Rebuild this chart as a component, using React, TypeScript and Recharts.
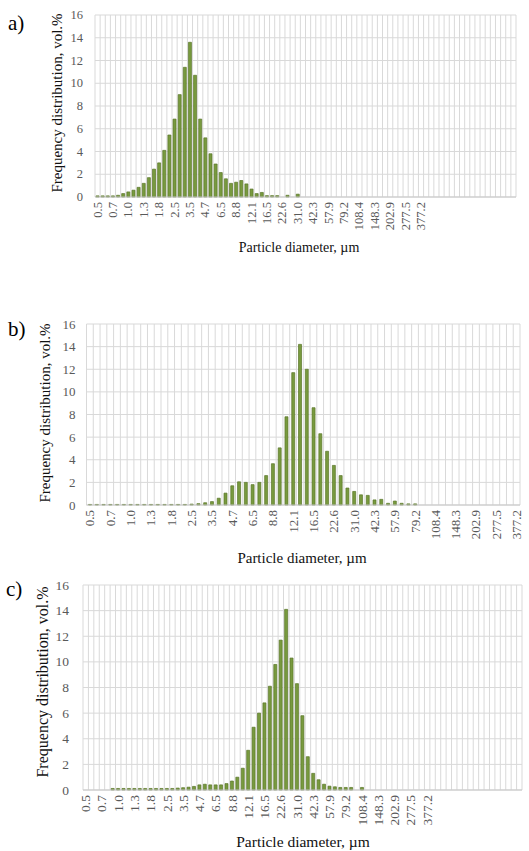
import React from "react";
import { BarChart, Bar, XAxis, YAxis, CartesianGrid } from "recharts";

// Particle size classes (µm); every third one is labelled on the axis
const sizeLabels = [
  "0.5","0.56","0.62","0.7","0.78","0.87","1.0","1.1","1.2","1.3","1.5","1.6",
  "1.8","2.0","2.3","2.5","2.8","3.1","3.5","3.8","4.2","4.7","5.2","5.8",
  "6.5","7.1","7.9","8.8","9.8","10.9","12.1","13.4","14.9","16.5","18.3","20.4",
  "22.6","25.1","27.9","31.0","34.3","38.1","42.3","47.0","52.1","57.9","64.2","71.3",
  "79.2","87.9","97.6","108.4","120.3","133.6","148.3","164.6","182.7","202.9","225.2","250.0",
  "277.5","308.1","342.0","377.2",
];
const labelledSizes = [
  "0.5","0.7","1.0","1.3","1.8","2.5","3.5","4.7","6.5","8.8","12.1","16.5",
  "22.6","31.0","42.3","57.9","79.2","108.4","148.3","202.9","277.5","377.2",
];

const yTicks = [0, 2, 4, 6, 8, 10, 12, 14, 16];

// a) frequency distribution, vol.%
const valuesA = [
  0.1, 0.1, 0.1, 0.1, 0.15, 0.3, 0.45, 0.6, 0.85, 1.2,
  1.7, 2.45, 3.0, 4.1, 5.45, 6.85, 9.0, 11.4, 13.6, 10.7,
  6.85, 5.2, 3.8, 2.9, 2.15, 1.6, 1.2, 1.3, 1.45, 1.15,
  0.7, 0.3, 0.4, 0.12, 0.12, 0.12, 0, 0.15, 0, 0.25,
  0, 0, 0, 0, 0, 0, 0, 0, 0, 0,
  0, 0, 0, 0, 0, 0, 0, 0, 0, 0,
  0, 0, 0, 0, 0, 0, 0, 0, 0, 0,
  0, 0, 0, 0, 0, 0, 0, 0, 0, 0,
  0, 0,
];

// b)
const valuesB = [
  0.05, 0.05, 0.05, 0.05, 0.05, 0.05, 0.05, 0.05, 0.05, 0.05,
  0.05, 0.05, 0.05, 0.05, 0.05, 0.08, 0.12, 0.2, 0.3, 0.6,
  1.05, 1.7, 2.05, 2.0, 1.8, 2.0, 2.6, 3.65, 5.05, 7.8,
  11.7, 14.2, 12.0, 8.6, 6.3, 4.75, 3.5, 2.6, 1.5, 1.2,
  0.9, 0.85, 0.45, 0.5, 0.15, 0.35, 0.15, 0.1, 0.1, 0,
  0, 0, 0, 0, 0, 0, 0, 0, 0, 0,
  0, 0, 0, 0,
];

// c)
const valuesC = [
  0, 0, 0, 0, 0, 0.12, 0.12, 0.12, 0.12, 0.12,
  0.12, 0.12, 0.12, 0.12, 0.12, 0.12, 0.12, 0.15, 0.18, 0.22,
  0.28, 0.4, 0.45, 0.4, 0.4, 0.4, 0.5, 0.7, 1.0, 1.7,
  3.1, 4.9, 6.0, 6.8, 8.1, 9.8, 11.7, 14.1, 10.3, 8.3,
  5.8, 2.6, 1.3, 0.8, 0.45, 0.3, 0.25, 0.2, 0.2, 0.2,
  0, 0.2, 0, 0, 0, 0, 0, 0, 0, 0,
  0, 0, 0, 0, 0, 0, 0, 0, 0, 0,
  0, 0, 0, 0, 0, 0, 0, 0, 0, 0,
  0,
];

const FONT = "Liberation Serif, Tinos, DejaVu Serif, serif";
const W = 529;

type PanelProps = {
  letter: string;
  values: number[];
  plotTop: number;
  plotBottom: number;
  plotLeft: number;
  plotRight: number;
  yTickRight: number;
  yTitle: [number, number];
  xTitle: [number, number];
  letterPos: [number, number];
  tickSize: number;
  xTitleSize: number;
  yTitleSize: number;
  gap: string;
};

function Panel(p: PanelProps) {
  const data = p.values.map((v, i) => ({
    key: i < sizeLabels.length ? sizeLabels[i] : `extra${i}`,
    v,
  }));
  const n = data.length;
  const chartTop = p.plotTop - 10;
  const plotH = p.plotBottom - p.plotTop;
  const chartH = plotH + 10 + 60;
  const relBottom = 10 + plotH;

  const XTick = (props: any) => {
    const { x, payload } = props;
    const val = String(payload.value);
    const txt = labelledSizes.includes(val) ? val : "";
    const y = relBottom + 5;
    return (
      <text
        x={x}
        y={y}
        transform={`rotate(-90, ${x}, ${y})`}
        textAnchor="end"
        dominantBaseline="central"
        fill="#595959"
        style={{ fontFamily: FONT }}
        fontSize={p.tickSize}
      >
        {txt}
      </text>
    );
  };

  const YTick = (props: any) => {
    const { y, payload } = props;
    return (
      <text
        x={p.yTickRight}
        y={y}
        textAnchor="end"
        dominantBaseline="central"
        fill="#595959"
        style={{ fontFamily: FONT }}
        fontSize={p.tickSize}
      >
        {payload.value}
      </text>
    );
  };

  const vGen = (props: any) => {
    const off = props.offset;
    const out: number[] = [];
    for (let i = 0; i <= n; i++) out.push(off.left + (off.width * i) / n);
    return out;
  };

  return (
    <>
      <div style={{ position: "absolute", left: 0, top: chartTop, width: W, height: chartH }}>
        <BarChart
          width={W}
          height={chartH}
          data={data}
          margin={{ top: 10, right: W - p.plotRight, bottom: 0, left: 0 }}
          barCategoryGap={p.gap}
        >
          <CartesianGrid
            stroke="#d9d9d9"
            strokeWidth={1}
            verticalCoordinatesGenerator={vGen}
          />
          <XAxis
            dataKey="key"
            type="category"
            interval={2}
            height={60}
            tickLine={false}
            axisLine={{ stroke: "#c8c8c8" }}
            tick={<XTick />}
          />
          <YAxis
            width={p.plotLeft}
            domain={[0, 16]}
            ticks={yTicks}
            interval={0}
            axisLine={false}
            tickLine={false}
            tick={<YTick />}
          />
          <Bar
            dataKey="v"
            fill="#789a3e"
            stroke="#5a7629"
            strokeWidth={0.7}
            isAnimationActive={false}
          />
        </BarChart>
      </div>
      <div
        style={{
          position: "absolute",
          left: p.letterPos[0],
          top: p.letterPos[1],
          transform: "translateY(-50%)",
          fontFamily: FONT,
          fontSize: 21,
          color: "#000",
          lineHeight: 1,
        }}
      >
        {p.letter}
      </div>
      <div
        style={{
          position: "absolute",
          left: p.yTitle[0],
          top: p.yTitle[1],
          transform: "translate(-50%, -50%) rotate(-90deg)",
          fontFamily: FONT,
          fontSize: p.yTitleSize,
          whiteSpace: "nowrap",
          color: "#111",
          lineHeight: 1,
        }}
      >
        Frequency distribution, vol.%
      </div>
      <div
        style={{
          position: "absolute",
          left: p.xTitle[0],
          top: p.xTitle[1],
          transform: "translate(-50%, -50%)",
          fontFamily: FONT,
          fontSize: p.xTitleSize,
          whiteSpace: "nowrap",
          color: "#111",
          lineHeight: 1,
        }}
      >
        Particle diameter, µm
      </div>
    </>
  );
}

export default function App() {
  return (
    <div
      style={{
        position: "absolute",
        left: 0,
        top: 0,
        width: W,
        height: 851,
        background: "#fff",
        overflow: "hidden",
        fontFamily: FONT,
      }}
    >
      <Panel
        letter="a)"
        values={valuesA}
        plotTop={15}
        plotBottom={197}
        plotLeft={95}
        plotRight={516}
        yTickRight={83}
        yTitle={[57, 103]}
        xTitle={[299, 248]}
        letterPos={[8, 23]}
        tickSize={12.5}
        xTitleSize={14}
        yTitleSize={15}
        gap="20%"
      />
      <Panel
        letter="b)"
        values={valuesB}
        plotTop={324}
        plotBottom={505}
        plotLeft={86.5}
        plotRight={520}
        yTickRight={75.5}
        yTitle={[45, 413]}
        xTitle={[302, 558]}
        letterPos={[8, 329]}
        tickSize={13}
        xTitleSize={15}
        yTitleSize={15}
        gap="30%"
      />
      <Panel
        letter="c)"
        values={valuesC}
        plotTop={585}
        plotBottom={790}
        plotLeft={83}
        plotRight={522}
        yTickRight={69}
        yTitle={[43, 682]}
        xTitle={[303, 842]}
        letterPos={[6, 589]}
        tickSize={13.5}
        xTitleSize={15.5}
        yTitleSize={16}
        gap="20%"
      />
    </div>
  );
}
